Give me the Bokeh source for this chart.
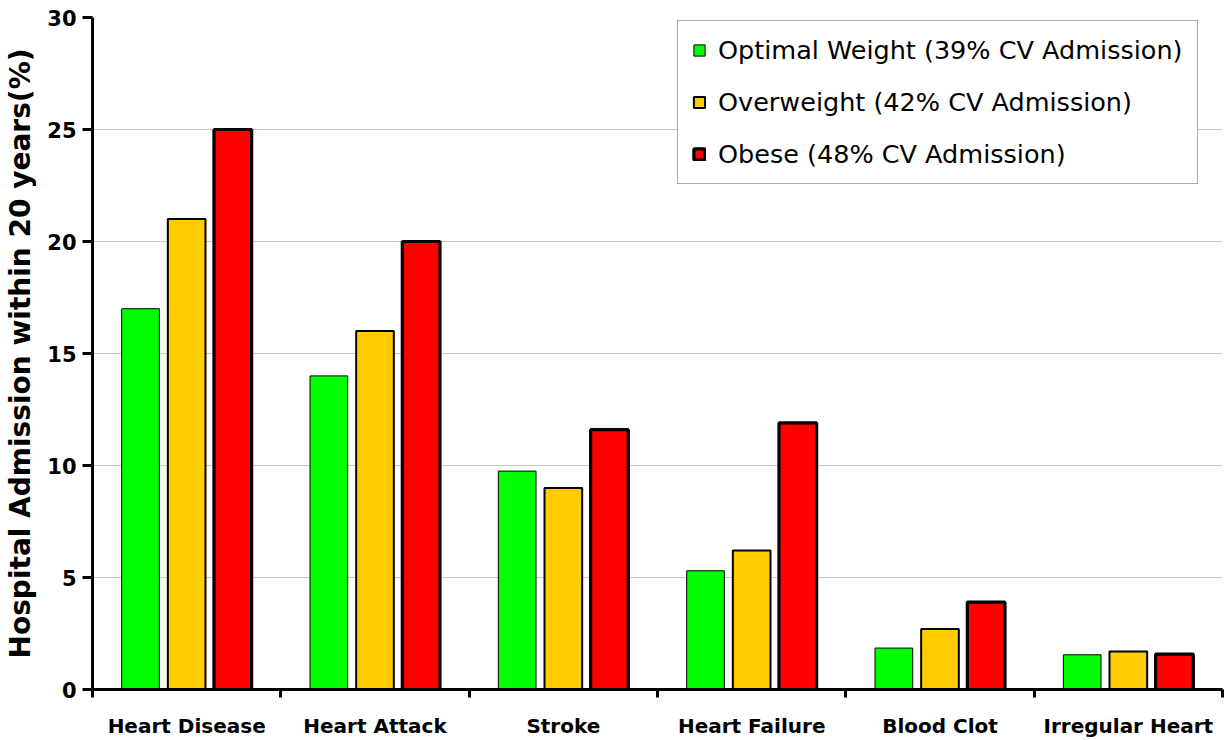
import numpy as np
from bokeh.plotting import figure
from bokeh.models import Range1d, FixedTicker, ColumnDataSource, Legend
from bokeh.embed import file_html
from bokeh.resources import INLINE

categories = ["Heart Disease", "Heart Attack", "Stroke", "Heart Failure", "Blood Clot", "Irregular Heart"]
optimal = [17.0, 14.0, 9.75, 5.3, 1.85, 1.55]
overweight = [21.0, 16.0, 9.0, 6.2, 2.7, 1.7]
obese = [25.0, 20.0, 11.6, 11.9, 3.9, 1.58]
series_names = ["Optimal Weight (39% CV Admission)", "Overweight (42% CV Admission)", "Obese (48% CV Admission)"]
y_ticks = [0, 5, 10, 15, 20, 25, 30]

colors = ["#00FF00", "#FFCC00", "#FF0000"]
line_widths = [1, 2, 3.2]
offsets = [-0.245, 0.0, 0.245]

n = len(categories)
centers = np.arange(n) + 0.5
bounds = list(np.arange(n + 1).astype(float))

p = figure(width=1232, height=740, output_backend="svg", toolbar_location=None,
           x_range=Range1d(0, n), y_range=Range1d(0, 30),
           min_border_left=92, min_border_right=10, min_border_top=17, min_border_bottom=50)
p.outline_line_color = None
p.background_fill_color = "white"
p.border_fill_color = "white"

renderers = []
for vals, name, col, lw, off in zip([optimal, overweight, obese], series_names, colors, line_widths, offsets):
    src = ColumnDataSource(dict(x=centers + off, top=vals))
    r = p.vbar(x="x", top="top", width=0.2, bottom=0, source=src,
               fill_color=col, line_color="black", line_width=lw)
    renderers.append((name, [r]))

# axes
p.xgrid.grid_line_color = None
p.ygrid.grid_line_color = "#c8c8c8"
p.ygrid.grid_line_width = 1
p.ygrid.ticker = FixedTicker(ticks=y_ticks[1:])

xa = p.xaxis[0]
xa.ticker = FixedTicker(ticks=list(centers), minor_ticks=bounds)
xa.major_label_overrides = {float(c): lab for c, lab in zip(centers, categories)}
xa.major_tick_line_color = None
xa.major_tick_out = 0
xa.major_tick_in = 0
xa.minor_tick_out = 8
xa.minor_tick_in = 0
xa.minor_tick_line_width = 3
xa.minor_tick_line_color = "black"
xa.axis_line_width = 3
xa.axis_line_color = "black"
xa.major_label_text_font = "DejaVu Sans"
xa.major_label_text_font_style = "bold"
xa.major_label_text_font_size = "20px"
xa.major_label_text_color = "black"
xa.major_label_standoff = 16

ya = p.yaxis[0]
ya.ticker = FixedTicker(ticks=y_ticks)
ya.minor_tick_line_color = None
ya.major_tick_out = 10
ya.major_tick_in = 0
ya.major_tick_line_width = 3
ya.major_tick_line_color = "black"
ya.axis_line_width = 3
ya.axis_line_color = "black"
ya.major_label_text_font = "DejaVu Sans"
ya.major_label_text_font_style = "bold"
ya.major_label_text_font_size = "21px"
ya.major_label_text_color = "black"
ya.major_label_standoff = 6
ya.axis_label = "Hospital Admission within 20 years(%)"
ya.axis_label_text_font = "DejaVu Sans"
ya.axis_label_text_font_style = "bold"
ya.axis_label_text_font_size = "28px"
ya.axis_label_text_color = "black"
ya.axis_label_standoff = 7

legend = Legend(items=renderers, location=(585, 505))
legend.label_text_font = "DejaVu Sans"
legend.label_text_font_size = "25.5px"
legend.label_text_color = "black"
legend.glyph_width = 14
legend.glyph_height = 14
legend.label_height = 26
legend.spacing = 22
legend.padding = 14
legend.margin = 0
legend.label_standoff = 12
legend.border_line_color = "#555555"
legend.border_line_width = 1.5
legend.background_fill_color = "white"
legend.background_fill_alpha = 1
p.add_layout(legend, "center")

open("out.html", "w").write(file_html(p, INLINE))
